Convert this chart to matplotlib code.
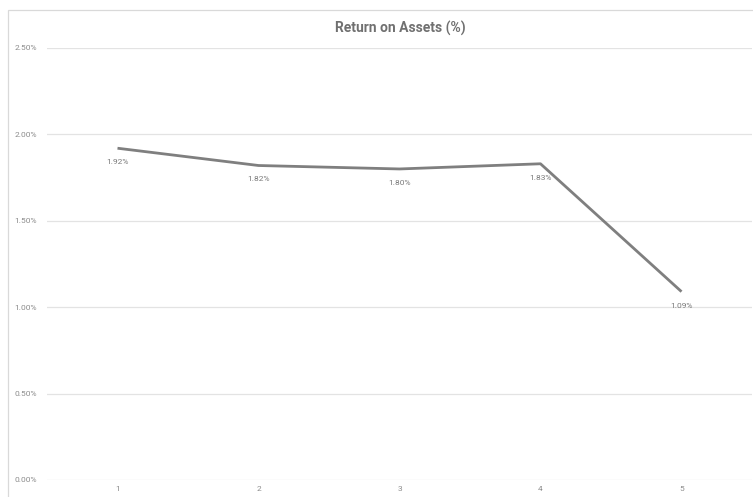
import matplotlib.pyplot as plt
from matplotlib.patches import Rectangle
from matplotlib.ticker import FuncFormatter

# Return on assets by period
periods = [1, 2, 3, 4, 5]
roa = [1.92, 1.82, 1.80, 1.83, 1.09]
y_ticks = [0.0, 0.5, 1.0, 1.5, 2.0, 2.5]

plt.rcParams['font.family'] = ['Roboto', 'DejaVu Sans']

W, H = 753, 497
fig = plt.figure(figsize=(W / 100, H / 100), dpi=100)
fig.patch.set_facecolor('white')

# chart frame (runs off the right and bottom edge)
fig.patches.append(Rectangle((8 / W, -0.1), 1.1, 1 - 10 / H + 0.1,
                             transform=fig.transFigure, fill=False,
                             edgecolor='#d9d9d9', linewidth=0.9))

ax = fig.add_axes([47 / W, 1 - 480 / H, 705 / W, 432 / H])
ax.set_facecolor('none')

ax.plot(periods, roa, color='#7f7f7f', linewidth=2.0, solid_capstyle='butt', zorder=3)

for x, v in zip(periods, roa):
    ax.annotate(f'{v:.2f}%', (x, v), xytext=(0, -10), textcoords='offset points',
                ha='center', va='center', fontsize=6, color='#7a7a7a')

ax.set_xlim(0.5, 5.5)
ax.set_ylim(0, 2.5)
ax.set_xticks(periods)
ax.set_yticks(y_ticks)
ax.yaxis.set_major_formatter(FuncFormatter(lambda v, _: f'{v:.2f}%'))
ax.grid(axis='y', color='#e3e3e3', linewidth=0.9)
ax.set_axisbelow(True)

for s in ax.spines.values():
    s.set_visible(False)
ax.tick_params(length=0, labelsize=6, labelcolor='#8c8c8c')
ax.tick_params(axis='y', pad=7)
ax.tick_params(axis='x', pad=4)

fig.text(400 / W, 1 - 28 / H, 'Return on Assets (%)', ha='center', va='center',
         fontsize=10, fontweight='bold', color='#707070')

fig.savefig('out.png', dpi=100)
